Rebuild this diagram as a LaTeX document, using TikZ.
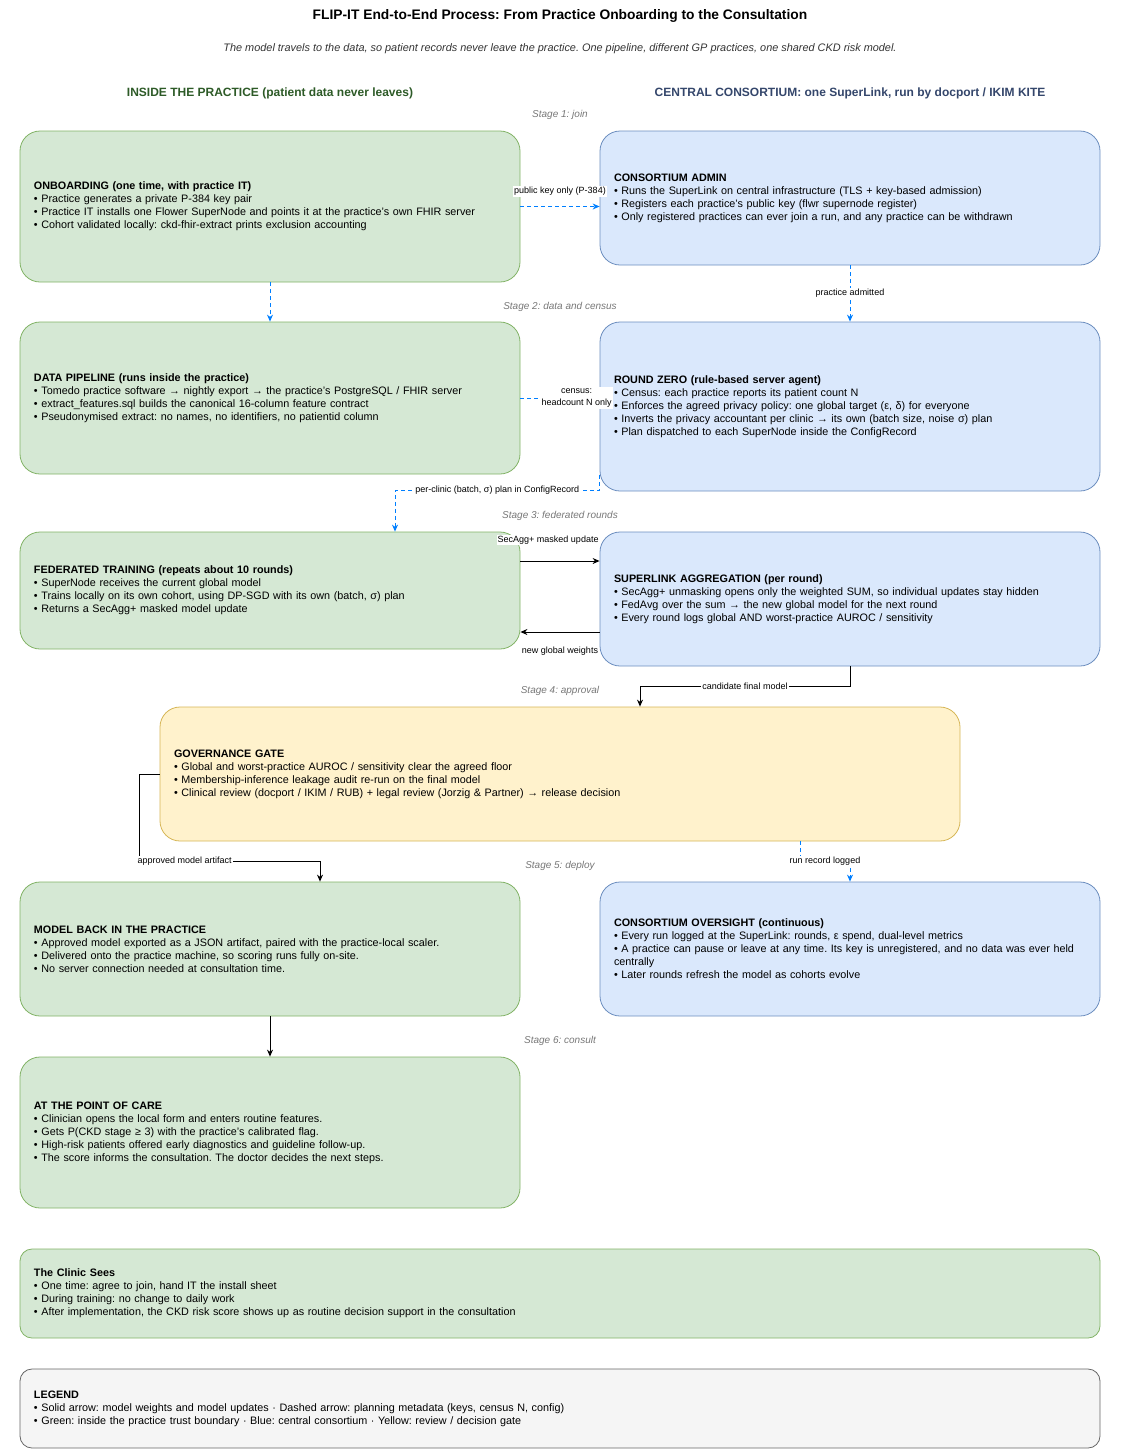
\documentclass[tikz,border=0pt]{standalone}
\usepackage{fontspec}
\setmainfont{Liberation Sans}
\usetikzlibrary{arrows.meta}
\usetikzlibrary{calc}
\frenchspacing

\definecolor{grfill}{HTML}{D5E8D4}
\definecolor{grline}{HTML}{82B366}
\definecolor{blfill}{HTML}{DAE8FC}
\definecolor{blline}{HTML}{6C8EBF}
\definecolor{yefill}{HTML}{FFF2CC}
\definecolor{yeline}{HTML}{D6B656}
\definecolor{lgfill}{HTML}{F5F5F5}
\definecolor{lgline}{HTML}{666666}
\definecolor{plancol}{HTML}{007FFF}
\definecolor{stagecol}{HTML}{777777}
\definecolor{subcol}{HTML}{333333}
\definecolor{headgr}{HTML}{2D5A27}
\definecolor{headbl}{HTML}{34466B}

\begin{document}
\begin{tikzpicture}[x=1pt, y=-1pt,
		box/.style={draw, rounded corners=20pt, line width=0.8pt, inner xsep=14pt, inner ysep=3pt,
			text width=472pt, align=left, font=\fontsize{10.8}{13}\selectfont},
		practice/.style={box, fill=grfill, draw=grline},
		central/.style={box, fill=blfill, draw=blline},
		gatebox/.style={box, fill=yefill, draw=yeline, text width=772pt},
		widebox/.style={box, rounded corners=12pt, text width=1052pt},
		plan/.style={draw=plancol, line width=1pt, dash pattern=on 4pt off 3pt, -{Stealth[length=7pt, width=6pt]}},
		weights/.style={draw=black, line width=1pt, -{Stealth[length=7pt, width=6pt]}},
		lbl/.style={fill=white, inner sep=1pt, text=black, font=\fontsize{9}{11}\selectfont},
		stage/.style={text=stagecol, font=\fontsize{10}{12}\selectfont\itshape}]
		\useasboundingbox (0, 0) rectangle (1120, 1449);

		% titles
		\node[font=\fontsize{13.8}{16}\selectfont\bfseries] (title) at (560, 16) {FLIP-IT End-to-End Process: From Practice Onboarding to the Consultation};
		\node[text=subcol, font=\fontsize{10.9}{13}\selectfont\itshape] (subtitle) at (560, 49) {The model travels to the data, so patient records never leave the practice. One pipeline, different GP practices, one shared CKD risk model.};
		\node[text=headgr, font=\fontsize{12}{14}\selectfont\bfseries] (headpr) at (270, 93) {INSIDE THE PRACTICE (patient data never leaves)};
		\node[text=headbl, font=\fontsize{12}{14}\selectfont\bfseries] (headcc) at (850, 93) {CENTRAL CONSORTIUM: one SuperLink, run by docport / IKIM KITE};

		% stages
		\node[stage] (st1) at (560, 115) {Stage 1: join};
		\node[stage] (st2) at (560, 307) {Stage 2: data and census};
		\node[stage] (st3) at (560, 516) {Stage 3: federated rounds};
		\node[stage] (st4) at (560, 691) {Stage 4: approval};
		\node[stage] (st5) at (560, 866) {Stage 5: deploy};
		\node[stage] (st6) at (560, 1041) {Stage 6: consult};

		% boxes
		\node[practice, minimum height=151pt] (onb) at (270, 206.5) {\textbf{ONBOARDING (one time, with practice IT)}\\
			• Practice generates a private P-384 key pair\\
			• Practice IT installs one Flower SuperNode and points it at the practice's own FHIR server\\
			• Cohort validated locally: ckd-fhir-extract prints exclusion accounting};
		\node[central, minimum height=134pt] (adm) at (850, 198) {\textbf{CONSORTIUM ADMIN}\\
			• Runs the SuperLink on central infrastructure (TLS + key-based admission)\\
			• Registers each practice's public key (flwr supernode register)\\
			• Only registered practices can ever join a run, and any practice can be withdrawn};
		\node[practice, minimum height=152pt] (pipe) at (270, 398) {\textbf{DATA PIPELINE (runs inside the practice)}\\
			• Tomedo practice software → nightly export → the practice's PostgreSQL / FHIR server\\
			• extract\_features.sql builds the canonical 16-column feature contract\\
			• Pseudonymised extract: no names, no identifiers, no patientid column};
		\node[central, minimum height=169pt] (rz) at (850, 406.5) {\textbf{ROUND ZERO (rule-based server agent)}\\
			• Census: each practice reports its patient count N\\
			• Enforces the agreed privacy policy: one global target (ε, δ) for everyone\\
			• Inverts the privacy accountant per clinic → its own (batch size, noise σ) plan\\
			• Plan dispatched to each SuperNode inside the ConfigRecord};
		\node[practice, minimum height=117pt] (ft) at (270, 590.5) {\textbf{FEDERATED TRAINING (repeats about 10 rounds)}\\
			• SuperNode receives the current global model\\
			• Trains locally on its own cohort, using DP-SGD with its own (batch, σ) plan\\
			• Returns a SecAgg+ masked model update};
		\node[central, minimum height=134pt] (agg) at (850, 599) {\textbf{SUPERLINK AGGREGATION (per round)}\\
			• SecAgg+ unmasking opens only the weighted SUM, so individual updates stay hidden\\
			• FedAvg over the sum → the new global model for the next round\\
			• Every round logs global AND worst-practice AUROC / sensitivity};
		\node[gatebox, minimum height=134pt] (gate) at (560, 774) {\textbf{GOVERNANCE GATE}\\
			• Global and worst-practice AUROC / sensitivity clear the agreed floor\\
			• Membership-inference leakage audit re-run on the final model\\
			• Clinical review (docport / IKIM / RUB) + legal review (Jorzig \& Partner) → release decision};
		\node[practice, minimum height=134pt] (back) at (270, 949) {\textbf{MODEL BACK IN THE PRACTICE}\\
			• Approved model exported as a JSON artifact, paired with the practice-local scaler.\\
			• Delivered onto the practice machine, so scoring runs fully on-site.\\
			• No server connection needed at consultation time.};
		\node[central, minimum height=134pt] (ovs) at (850, 949) {\textbf{CONSORTIUM OVERSIGHT (continuous)}\\
			• Every run logged at the SuperLink: rounds, ε spend, dual-level metrics\\
			• A practice can pause or leave at any time. Its key is unregistered, and no data was ever held\\
			centrally\\
			• Later rounds refresh the model as cohorts evolve};
		\node[practice, minimum height=151pt] (care) at (270, 1132.5) {\textbf{AT THE POINT OF CARE}\\
			• Clinician opens the local form and enters routine features.\\
			• Gets P(CKD stage ≥ 3) with the practice's calibrated flag.\\
			• High-risk patients offered early diagnostics and guideline follow-up.\\
			• The score informs the consultation. The doctor decides the next steps.};
		\node[practice, widebox, minimum height=89pt] (sees) at (560, 1293.5) {\textbf{The Clinic Sees}\\
			• One time: agree to join, hand IT the install sheet\\
			• During training: no change to daily work\\
			• After implementation, the CKD risk score shows up as routine decision support in the consultation};
		\node[box, widebox, fill=lgfill, draw=lgline, minimum height=79pt] (leg) at (560, 1408.5) {\textbf{LEGEND}\\
			• Solid arrow: model weights and model updates · Dashed arrow: planning metadata (keys, census N, config)\\
			• Green: inside the practice trust boundary · Blue: central consortium · Yellow: review / decision gate};

		% connectors
		\draw[plan] (onb.east) -- node[lbl, pos=0.5, yshift=15pt] {public key only (P-384)} (onb.east -| adm.west);
		\draw[plan] (onb.south) -- (pipe.north);
		\draw[plan] (adm.south) -- node[lbl] {practice admitted} (rz.north);
		\draw[plan] (pipe.east) -- node[lbl, align=center, pos=0.71, font=\fontsize{9}{12.5}\selectfont] {census:\\headcount N only} (pipe.east -| rz.west);
		\coordinate (rzout) at ($(rz.south west)+(0,-16)$);
		\draw[plan] (rzout) -- ++(0, 15) -| node[lbl, pos=0.25] {per-clinic (batch, σ) plan in ConfigRecord} ($(ft.north)+(125,0)$);
		\draw[weights] ([yshift=29.5pt]ft.east) -- node[lbl, pos=0.35, yshift=21pt] {SecAgg+ masked update} ([yshift=29.5pt]ft.east -| agg.west);
		\draw[weights] ([yshift=-33pt]agg.west) -- node[lbl, pos=0.5, yshift=-19pt] {new global weights} ([yshift=-33pt]agg.west -| ft.east);
		\draw[weights] (agg.south) -- ++(0, 20) -| node[lbl, pos=0.25] {candidate final model} ($(gate.north)+(80,0)$);
		\draw[weights] (gate.west) -- ++(-20, 0) -- ++(0, 87) -| node[lbl, pos=0.125] {approved model artifact} ($(back.north)+(50,0)$);
		\draw[plan] ($(gate.south)+(240,0)$) -- ++(0, 20) -| node[lbl, pos=0.25] {run record logged} (ovs.north);
		\draw[weights] (back.south) -- (care.north);
	\end{tikzpicture}
\end{document}
